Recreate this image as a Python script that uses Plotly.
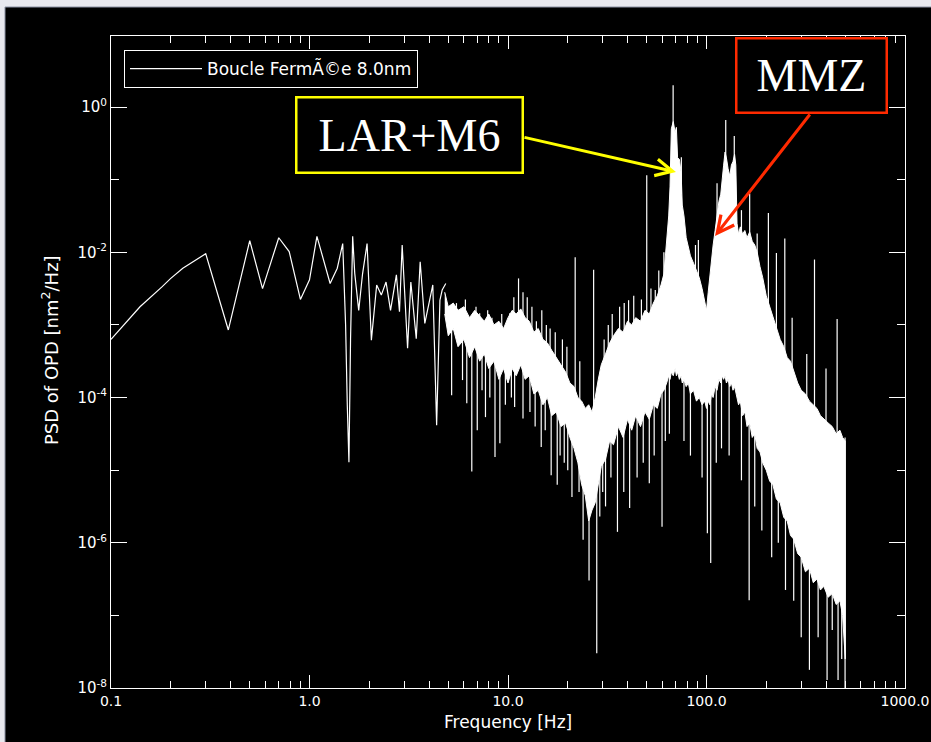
import plotly.graph_objects as go

# ---------------- data ----------------
# low-frequency part, individually resolved points (Hz, log10 PSD)
freq_lf = [0.10, 0.14, 0.18, 0.20, 0.23, 0.30, 0.39, 0.50, 0.58, 0.70, 0.79, 0.90,
           1.00, 1.09, 1.27, 1.38, 1.47, 1.52, 1.55, 1.58, 1.61, 1.65, 1.69, 1.77,
           1.85, 1.95, 2.05, 2.18, 2.30, 2.43, 2.56, 2.74, 2.84, 2.93, 3.12, 3.24,
           3.45, 3.61, 3.81, 4.00, 4.18, 4.37, 4.54, 4.66, 4.86]
psd_lf_log10 = [-3.20, -2.75, -2.48, -2.36, -2.22, -2.02, -3.07, -1.84, -2.50, -1.80, -1.99, -2.65,
                -2.38, -1.78, -2.43, -2.22, -1.88, -3.00, -4.10, -4.89, -3.20, -1.78, -2.29, -2.80,
                -2.30, -1.88, -3.21, -2.45, -2.59, -2.41, -2.80, -2.31, -2.82, -1.90, -3.32, -2.41,
                -3.19, -2.13, -2.98, -2.70, -2.45, -4.38, -2.66, -2.52, -2.43]

# dense part: envelope of the solid core (Hz, log10 PSD upper / lower)
freq_band = [4.8, 5.0, 5.3, 5.6, 6.0, 6.4, 6.8, 7.2, 7.6, 8.0, 8.5, 9.0, 9.5, 10.0, 10.5,
             11.0, 11.6, 12.2, 12.8, 13.5, 14.2, 15.0, 15.8, 16.6, 17.5, 18.5, 19.5, 20.5, 21.5,
             22.5, 23.5, 24.5, 25.5, 26.5, 27.5, 28.5, 29.5, 31.0, 32.5, 34.0, 36.0, 38.0, 40.0,
             42.0, 44.0, 46.5, 49.0, 51.5, 54.0, 56.5, 59.0, 61.0, 63.0, 64.5, 65.5, 66.5, 68.0,
             69.5, 70.5, 71.5, 73.0, 74.5, 75.5, 77.0, 79.0, 81.0, 83.0, 86.0, 89.0, 92.0, 95.0,
             98.0, 100.0, 102.0, 104.0, 106.0, 108.0, 110.5, 113.0, 115.5, 118.0, 120.0, 122.0,
             124.0, 126.0, 128.5, 131.0, 133.5, 136.0, 138.5, 140.5, 142.5, 145.0, 148.0, 152.0,
             156.0, 160.0, 165.0, 170.0, 175.0, 180.0, 186.0, 192.0, 200.0, 208.0, 216.0, 225.0,
             235.0, 245.0, 255.0, 265.0, 275.0, 288.0, 300.0, 315.0, 330.0, 345.0, 360.0, 375.0,
             390.0, 410.0, 430.0, 450.0, 470.0, 485.0, 500.0]
psd_upper_log10 = [-2.55, -2.75, -2.70, -2.80, -2.75, -2.90, -2.80, -2.88, -2.95, -2.85, -3.00, -2.95, -3.05, -2.90, -2.80,
                   -2.85, -2.78, -2.90, -2.95, -3.10, -3.05, -3.20, -3.25, -3.35, -3.45, -3.55, -3.65, -3.80, -3.85,
                   -4.00, -4.05, -4.15, -4.10, -4.20, -4.00, -3.75, -3.55, -3.40, -3.25, -3.15, -3.05, -3.10, -2.95,
                   -3.00, -2.90, -2.95, -2.80, -2.85, -2.70, -2.60, -2.45, -2.30, -1.90, -1.50, -1.10, -0.30, -0.20,
                   -0.35, -0.28, -0.70, -0.72, -0.90, -1.35, -1.50, -1.80, -1.95, -2.05, -2.15, -2.25, -2.35, -2.50,
                   -2.70, -2.80, -2.55, -2.30, -2.05, -1.90, -1.70, -1.50, -1.30, -1.20, -0.95, -0.80,
                   -0.62, -0.70, -0.85, -0.95, -0.80, -0.75, -0.65, -0.80, -1.60, -1.75, -1.65, -1.75,
                   -1.70, -1.80, -1.72, -1.85, -1.90, -2.00, -2.20, -2.35, -2.60, -2.75, -2.90, -3.05,
                   -3.20, -3.30, -3.45, -3.50, -3.65, -3.80, -3.90, -3.95, -4.05, -4.10, -4.15, -4.25,
                   -4.30, -4.35, -4.40, -4.50, -4.45, -4.55, -4.60]
psd_lower_log10 = [-2.85, -3.15, -3.05, -3.30, -3.20, -3.45, -3.30, -3.50, -3.40, -3.60, -3.50, -3.75, -3.60, -3.80, -3.60,
                   -3.70, -3.55, -3.75, -3.70, -3.95, -3.90, -4.10, -4.00, -4.25, -4.20, -4.40, -4.35, -4.55, -4.70,
                   -4.90, -5.20, -5.35, -5.70, -5.55, -5.45, -5.20, -4.95, -4.85, -4.60, -4.65, -4.40, -4.55, -4.30,
                   -4.45, -4.25, -4.40, -4.20, -4.30, -4.10, -4.15, -3.95, -3.90, -3.80, -3.70, -3.75, -3.65, -3.70,
                   -3.60, -3.70, -3.65, -3.75, -3.70, -3.80, -3.75, -3.85, -3.80, -3.95, -3.90, -4.05, -4.00, -4.10,
                   -4.05, -4.15, -4.05, -4.10, -3.95, -4.00, -3.85, -3.90, -3.75, -3.80, -3.70, -3.75,
                   -3.70, -3.80, -3.75, -3.85, -3.80, -3.90, -3.85, -3.95, -4.00, -4.10, -4.05, -4.25,
                   -4.20, -4.40, -4.35, -4.55, -4.50, -4.70, -4.75, -4.90, -5.00, -5.15, -5.20, -5.40,
                   -5.45, -5.65, -5.70, -5.90, -5.95, -6.15, -6.20, -6.40, -6.35, -6.55, -6.50, -6.65,
                   -6.60, -6.75, -6.70, -6.85, -6.80, -7.00, -7.60]

# isolated spikes rising above the core (Hz, log10 top, log10 base)
spike_up_freq = [5.5, 6.1, 6.9, 7.2, 7.9, 8.3, 9.3, 10.2, 10.7, 11.3, 11.9, 12.5, 13.2, 13.9,
                 14.8, 15.6, 16.3, 17.3, 18.8, 19.8, 21.8, 23.0, 27.0, 30.5, 32.0, 33.5, 36.5,
                 38.5, 40.5, 43.0, 47.0, 50.0, 52.5, 55.2, 57.5, 61.0, 67.9, 74.7, 88.0, 91.0,
                 113.0, 125.0, 138.0, 150.0, 165.0, 180.0, 205.0, 225.0, 248.0, 270.0, 320.0,
                 350.0, 400.0, 455.0]
spike_up_top_log10 = [-2.70, -2.65, -2.75, -2.84, -2.80, -2.90, -2.85, -2.84, -2.62, -2.36, -2.55, -2.62, -2.75, -2.95,
                      -2.80, -3.00, -3.05, -3.10, -3.20, -3.30, -2.07, -3.50, -2.24, -3.20, -3.00, -2.85, -2.75,
                      -2.70, -2.66, -2.60, -2.65, -0.94, -2.50, -2.52, -2.25, -2.00, 0.30, -0.69, -1.90, -1.83,
                      -1.05, -0.18, -0.40, -1.42, -1.19, -1.74, -1.46, -2.01, -1.81, -2.90, -3.40,
                      -2.10, -3.60, -2.92]
spike_up_base_log10 = [-3.0, -3.0, -3.0, -3.1, -3.1, -3.2, -3.2, -3.1, -3.0, -3.0, -3.0, -3.0, -3.2, -3.3,
                       -3.3, -3.4, -3.5, -3.6, -3.7, -3.8, -4.0, -4.2, -4.2, -3.7, -3.5, -3.3, -3.2,
                       -3.2, -3.1, -3.0, -3.0, -3.0, -3.0, -2.9, -2.8, -2.5, -0.4, -1.2, -2.4, -2.4,
                       -1.6, -0.8, -0.9, -2.0, -2.0, -2.2, -2.8, -3.2, -3.5, -3.6, -4.1,
                       -4.3, -4.4, -4.6]

# isolated spikes dropping below the core (Hz, log10 base, log10 bottom)
spike_dn_freq = [5.2, 5.9, 6.2, 6.57, 7.0, 7.4, 7.7, 8.1, 8.6, 9.1, 9.7, 10.4, 10.8, 11.9,
                 12.9, 13.7, 14.7, 15.4, 16.5, 17.7, 18.3, 19.2, 20.0, 21.0, 22.8, 23.9, 25.6,
                 28.0, 29.0, 30.0, 31.0, 33.0, 35.6, 38.3, 41.0, 44.7, 48.0, 51.5, 54.5, 59.7,
                 62.0, 65.0, 77.0, 83.0, 95.0, 101.0, 105.0, 112.0, 119.0, 130.0, 150.0, 164.0,
                 175.0, 190.0, 213.0, 230.0, 250.0, 275.0, 300.0, 330.0, 365.0, 405.0, 430.0,
                 460.0, 480.0, 499.0]
spike_dn_base_log10 = [-3.0, -3.0, -3.1, -3.1, -3.2, -3.2, -3.3, -3.3, -3.3, -3.4, -3.4, -3.4, -3.4, -3.4,
                       -3.5, -3.6, -3.6, -3.7, -3.8, -3.9, -4.0, -4.0, -4.1, -4.3, -4.5, -4.8, -5.0,
                       -4.9, -4.6, -4.5, -4.5, -4.3, -4.2, -4.2, -4.1, -4.0, -4.0, -4.0, -3.9, -3.8,
                       -3.7, -3.6, -3.6, -3.7, -3.9, -3.9, -3.9, -3.7, -3.6, -3.7, -3.9, -4.2,
                       -4.3, -4.6, -5.0, -5.2, -5.4, -5.8, -6.0, -6.2, -6.4, -6.5, -6.6,
                       -6.7, -6.8, -4.55]
spike_dn_bottom_log10 = [-3.97, -3.76, -4.08, -5.02, -4.45, -3.90, -4.27, -4.00, -4.82, -4.63, -4.10, -4.00, -4.13, -4.29,
                         -4.20, -4.40, -4.68, -4.45, -5.07, -5.20, -4.80, -4.90, -5.00, -5.37, -5.30, -5.96, -6.52,
                         -7.52, -5.64, -5.30, -5.50, -5.10, -5.85, -5.30, -5.52, -5.10, -4.90, -5.18, -4.80, -5.78,
                         -4.60, -4.50, -4.60, -4.80, -5.10, -5.87, -6.28, -4.90, -4.70, -4.80, -5.14, -6.79,
                         -5.50, -5.83, -6.20, -6.00, -6.65, -6.80, -7.30, -7.75, -7.30, -7.89, -7.20,
                         -7.89, -7.60, -8.00]

x_tick_vals = [0.1, 1, 10, 100, 1000]
x_tick_text = ["0.1", "1.0", "10.0", "100.0", "1000.0"]
y_tick_vals = [1, 1e-2, 1e-4, 1e-6, 1e-8]
y_tick_text = ["10<sup>0</sup>", "10<sup>-2</sup>", "10<sup>-4</sup>", "10<sup>-6</sup>", "10<sup>-8</sup>"]

legend_name = "Boucle FermÃ©e 8.0nm"

# ---------------- figure ----------------
W, H = 931, 742
L, R, T, B = 111, 26, 36, 54
PW, PH = W - L - R, H - T - B


def px(xp):
    return (xp - L) / PW


def py(yp):
    return (H - B - yp) / PH


band_x = freq_band + freq_band[::-1]
band_y = [10 ** v for v in psd_upper_log10] + [10 ** v for v in psd_lower_log10[::-1]]

sx, sy = [], []
for f, t, b in zip(spike_up_freq, spike_up_top_log10, spike_up_base_log10):
    sx += [f, f, None]
    sy += [10 ** b, 10 ** t, None]
for f, t, b in zip(spike_dn_freq, spike_dn_base_log10, spike_dn_bottom_log10):
    sx += [f, f, None]
    sy += [10 ** b, 10 ** t, None]

fig = go.Figure()
fig.add_trace(go.Scatter(x=band_x, y=band_y, fill="toself", fillcolor="white",
                         mode="lines", line=dict(color="white", width=1),
                         showlegend=False, hoverinfo="skip"))
fig.add_trace(go.Scatter(x=sx, y=sy, mode="lines", line=dict(color="white", width=1.2),
                         showlegend=False, hoverinfo="skip"))
fig.add_trace(go.Scatter(x=freq_lf, y=[10 ** v for v in psd_lf_log10], mode="lines",
                         line=dict(color="white", width=1.2), name=legend_name))

tickfont = dict(family="DejaVu Sans", size=14, color="white")
x_minor = [k * 10 ** d for d in range(-1, 3) for k in range(2, 10)]
fig.update_xaxes(type="log", range=[-1, 3], showline=True, linecolor="white", linewidth=1,
                 mirror="ticks", ticks="inside", ticklen=13, tickwidth=1, tickcolor="white",
                 tickmode="array", tickvals=x_tick_vals, ticktext=x_tick_text,
                 tickfont=tickfont, showgrid=False, zeroline=False,
                 minor=dict(tickmode="array", tickvals=x_minor, ticks="inside", ticklen=7,
                            tickwidth=1, tickcolor="white", showgrid=False))
fig.update_yaxes(type="log", range=[-8, 0.978], showline=True, linecolor="white", linewidth=1,
                 mirror="ticks", ticks="inside", ticklen=16, tickwidth=1, tickcolor="white",
                 tickmode="array", tickvals=y_tick_vals, ticktext=y_tick_text,
                 tickfont=dict(family="DejaVu Sans", size=15, color="white"),
                 showgrid=False, zeroline=False,
                 minor=dict(tickmode="array", tickvals=[1e-1, 1e-3, 1e-5, 1e-7], ticks="inside",
                            ticklen=8, tickwidth=1, tickcolor="white", showgrid=False))

annos = [
    dict(text="Frequency [Hz]", x=px(508), y=py(722), xref="paper", yref="paper",
         xanchor="center", yanchor="middle",
         showarrow=False, font=dict(family="DejaVu Sans", size=17, color="white")),
    dict(text="PSD of OPD [nm<sup>2</sup>/Hz]", x=px(50), y=py(350), xref="paper", yref="paper",
         xanchor="center", yanchor="middle",
         showarrow=False, textangle=-90, font=dict(family="DejaVu Sans", size=18, color="white")),
    dict(text="LAR+M6", x=px(409), y=py(135.5), xref="paper", yref="paper", showarrow=False,
         xanchor="center", yanchor="middle",
         font=dict(family="Liberation Serif", size=46, color="white"),
         bgcolor="black", bordercolor="#ffff00", borderwidth=2.5, borderpad=0,
         width=224, height=73),
    dict(text="MMZ", x=px(811), y=py(75), xref="paper", yref="paper", showarrow=False,
         xanchor="center", yanchor="middle",
         font=dict(family="Liberation Serif", size=46, color="white"),
         bgcolor="black", bordercolor="#ff2a00", borderwidth=2.5, borderpad=0,
         width=148, height=72),
    dict(text="", x=px(676), y=py(172), xref="paper", yref="paper", showarrow=True,
         ax=523 - 676, ay=137 - 172, arrowhead=5, arrowsize=1.1, arrowwidth=3,
         arrowcolor="#ffff00", standoff=0, startstandoff=0),
    dict(text="", x=px(715), y=py(236), xref="paper", yref="paper", showarrow=True,
         ax=811 - 715, ay=113 - 236, arrowhead=5, arrowsize=1.1, arrowwidth=3,
         arrowcolor="#ff2a00", standoff=0, startstandoff=0),
]

shapes = [
    dict(type="rect", xref="paper", yref="paper", x0=px(0), x1=px(931), y0=py(7), y1=py(0),
         fillcolor="#e8e8ee", line=dict(width=0), layer="above"),
    dict(type="rect", xref="paper", yref="paper", x0=px(0), x1=px(5), y0=py(742), y1=py(0),
         fillcolor="#e8e8ee", line=dict(width=0), layer="above"),
    dict(type="line", xref="paper", yref="paper", x0=px(5), x1=px(931), y0=py(7), y1=py(7),
         line=dict(color="#8a90a2", width=1), layer="above"),
    dict(type="line", xref="paper", yref="paper", x0=px(5), x1=px(5), y0=py(742), y1=py(7),
         line=dict(color="#8a90a2", width=1), layer="above"),
]

fig.update_layout(width=W, height=H, margin=dict(l=L, r=R, t=T, b=B, autoexpand=False),
                  paper_bgcolor="black", plot_bgcolor="black",
                  annotations=annos, shapes=shapes,
                  legend=dict(x=px(124), y=py(50), xanchor="left", yanchor="top",
                              bgcolor="black", bordercolor="white", borderwidth=1,
                              font=dict(family="DejaVu Sans", size=17, color="white"),
                              itemwidth=72, tracegroupgap=0),
                  showlegend=True)

fig.write_html("out.html")
